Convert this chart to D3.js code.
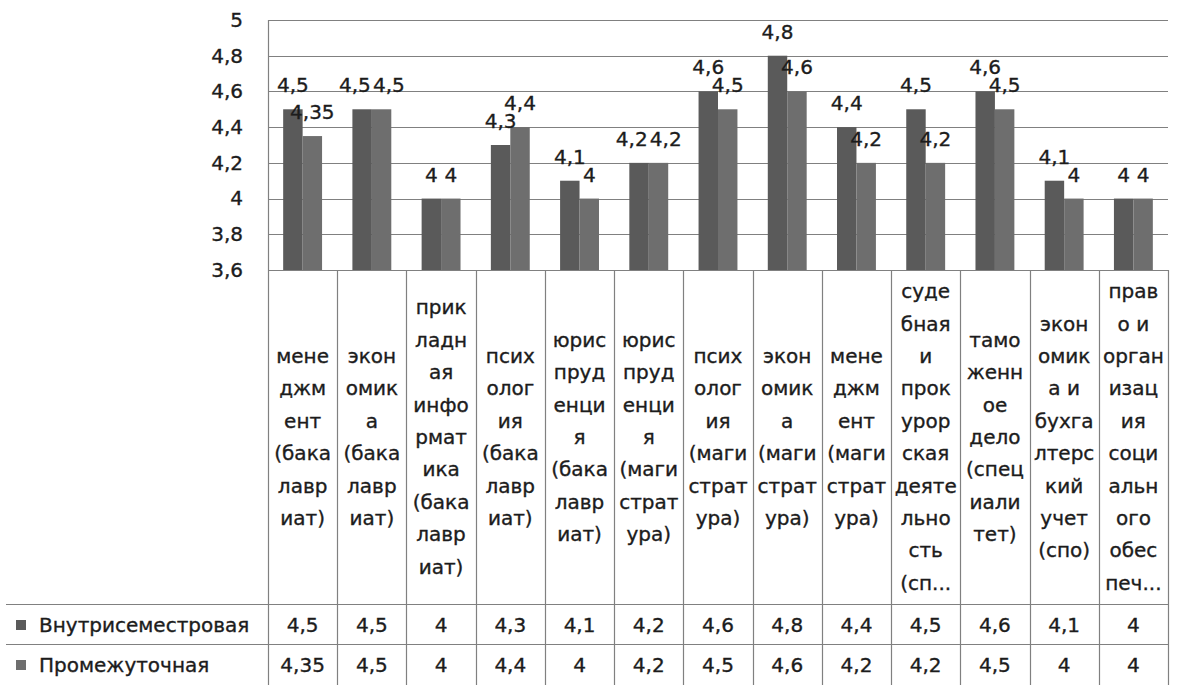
<!DOCTYPE html>
<html>
<head>
<meta charset="utf-8">
<script src="https://cdn.jsdelivr.net/npm/d3@7/dist/d3.min.js"></script>
<style>
  html, body { margin: 0; padding: 0; background: #fff; }
  svg { display: block; }
  text { font-family: "DejaVu Sans", sans-serif; fill: #1c1c1c; stroke: #1c1c1c; stroke-width: 0.35px; }
</style>
</head>
<body>
<svg id="chart" width="1181" height="685"></svg>
<script>
// ---- data ----
const categoryLines = [
  ["мене", "джм", "ент", "(бака", "лавр", "иат)"],
  ["экон", "омик", "а", "(бака", "лавр", "иат)"],
  ["прик", "ладн", "ая", "инфо", "рмат", "ика", "(бака", "лавр", "иат)"],
  ["псих", "олог", "ия", "(бака", "лавр", "иат)"],
  ["юрис", "пруд", "енци", "я", "(бака", "лавр", "иат)"],
  ["юрис", "пруд", "енци", "я", "(маги", "страт", "ура)"],
  ["псих", "олог", "ия", "(маги", "страт", "ура)"],
  ["экон", "омик", "а", "(маги", "страт", "ура)"],
  ["мене", "джм", "ент", "(маги", "страт", "ура)"],
  ["суде", "бная", "и", "прок", "урор", "ская", "деяте", "льно", "сть", "(сп..."],
  ["тамо", "женн", "ое", "дело", "(спец", "иали", "тет)"],
  ["экон", "омик", "а и", "бухга", "лтерс", "кий", "учет", "(спо)"],
  ["прав", "о и", "орган", "изац", "ия", "соци", "альн", "ого", "обес", "печ..."]
];
const seriesNames = ["Внутрисеместровая", "Промежуточная"];
const valuesVnutri = [4.5, 4.5, 4, 4.3, 4.1, 4.2, 4.6, 4.8, 4.4, 4.5, 4.6, 4.1, 4];
const valuesPromezh = [4.35, 4.5, 4, 4.4, 4, 4.2, 4.5, 4.6, 4.2, 4.2, 4.5, 4, 4];
const yTicks = [3.6, 3.8, 4, 4.2, 4.4, 4.6, 4.8, 5];
const yDomain = [3.6, 5];

// ---- layout / styles ----
const plotLeft = 268, plotRight = 1168, plotTop = 20, plotBottom = 270;
const headerBottom = 604, rowH = 40, tableLeft = 6;
const colors = ["#5a5a5a", "#6e6e6e"];
const lineCol = "#808080";
const fontSize = 20;
const lineStep = 32.4;

const svg = d3.select("#chart");
const cats = d3.range(categoryLines.length);
const seriesVals = [valuesVnutri, valuesPromezh];

const x = d3.scaleBand().domain(cats).range([plotLeft, plotRight]).padding(0);
const x1 = d3.scaleBand().domain([0, 1]).range([0, x.bandwidth()])
  .paddingInner(0).paddingOuter(0.78);
const y = d3.scaleLinear().domain(yDomain).range([plotBottom, plotTop]);
const loc = d3.formatLocale({decimal: ",", thousands: " ", grouping: [3], currency: ["", ""]});
const fmt = v => loc.format("~g")(v);

// gridlines
svg.append("g").selectAll("line").data(yTicks).join("line")
  .attr("x1", plotLeft).attr("x2", plotRight)
  .attr("y1", d => Math.round(y(d)) + 0.5).attr("y2", d => Math.round(y(d)) + 0.5)
  .attr("stroke", lineCol).attr("stroke-width", 1.2);

// y axis via d3.axisLeft (ticks as text only)
const yAxis = d3.axisLeft(y).tickValues(yTicks).tickFormat(fmt).tickSize(0).tickPadding(25);
const gy = svg.append("g").attr("transform", `translate(${plotLeft},0)`).call(yAxis);
gy.select(".domain").remove();
gy.selectAll("text").attr("font-size", fontSize).attr("font-family", "DejaVu Sans, sans-serif").attr("fill", "#1c1c1c");

// bars
const barData = [];
cats.forEach(c => seriesVals.forEach((arr, s) => barData.push({c, s, v: arr[c]})));
svg.append("g").selectAll("rect").data(barData).join("rect")
  .attr("x", d => x(d.c) + x1(d.s))
  .attr("width", x1.bandwidth())
  .attr("y", d => y(d.v))
  .attr("height", d => y(yDomain[0]) - y(d.v))
  .attr("fill", d => colors[d.s]);

// data labels (with simple horizontal collision avoidance)
const lblW = v => fmt(v).length * fontSize * 0.55;
const labels = barData.map(d => ({...d, cx: x(d.c) + x1(d.s) + x1.bandwidth() / 2, cy: y(d.v) - 24}));
cats.forEach(c => {
  const a = labels.find(l => l.c === c && l.s === 0), b = labels.find(l => l.c === c && l.s === 1);
  if (Math.abs(a.cy - b.cy) < 16) {
    const need = (lblW(a.v) + lblW(b.v)) / 2 + 1;
    const gap = b.cx - a.cx;
    if (gap < need) { const sh = (need - gap) / 2; a.cx -= sh; b.cx += sh; }
  }
});
svg.append("g").selectAll("text").data(labels).join("text")
  .attr("x", d => d.cx).attr("y", d => d.cy)
  .attr("text-anchor", "middle").attr("dominant-baseline", "central")
  .attr("font-size", fontSize)
  .text(d => fmt(d.v));

// y axis line
svg.append("line").attr("x1", plotLeft + 0.5).attr("x2", plotLeft + 0.5)
  .attr("y1", plotTop).attr("y2", 685).attr("stroke", lineCol).attr("stroke-width", 1.2);

// table: vertical separators
const bounds = cats.map(c => x(c)).concat([plotRight]);
svg.append("g").selectAll("line").data(bounds.slice(1)).join("line")
  .attr("x1", d => Math.round(d) + 0.5).attr("x2", d => Math.round(d) + 0.5)
  .attr("y1", plotBottom).attr("y2", 685)
  .attr("stroke", lineCol).attr("stroke-width", 1.2);

// table: horizontal lines
svg.append("g").selectAll("line").data([headerBottom, headerBottom + rowH]).join("line")
  .attr("x1", tableLeft).attr("x2", plotRight)
  .attr("y1", d => d + 0.5).attr("y2", d => d + 0.5)
  .attr("stroke", lineCol).attr("stroke-width", 1.2);

// category header text
const headerMid = (plotBottom + headerBottom) / 2;
const hg = svg.append("g").selectAll("text").data(cats).join("text")
  .attr("text-anchor", "middle").attr("font-size", fontSize)
  .attr("x", c => x(c) + x.bandwidth() / 2)
  .attr("y", c => headerMid - (categoryLines[c].length - 1) * lineStep / 2)
  .attr("dominant-baseline", "central");
hg.selectAll("tspan").data(c => categoryLines[c]).join("tspan")
  .attr("x", function() { return d3.select(this.parentNode).attr("x"); })
  .attr("dy", (d, i) => i === 0 ? 0 : lineStep)
  .text(d => d);

// table rows: legend key + name + values
seriesNames.forEach((name, s) => {
  const cy = headerBottom + rowH * s + rowH / 2 + 1;
  svg.append("rect").attr("x", 16).attr("y", cy - 5).attr("width", 10).attr("height", 10).attr("fill", colors[s]);
  svg.append("text").attr("x", 39).attr("y", cy).attr("dominant-baseline", "central")
    .attr("font-size", fontSize).text(name);
  svg.append("g").selectAll("text").data(cats).join("text")
    .attr("x", c => x(c) + x.bandwidth() / 2).attr("y", cy)
    .attr("text-anchor", "middle").attr("dominant-baseline", "central")
    .attr("font-size", fontSize)
    .text(c => fmt(seriesVals[s][c]));
});
</script>
</body>
</html>
